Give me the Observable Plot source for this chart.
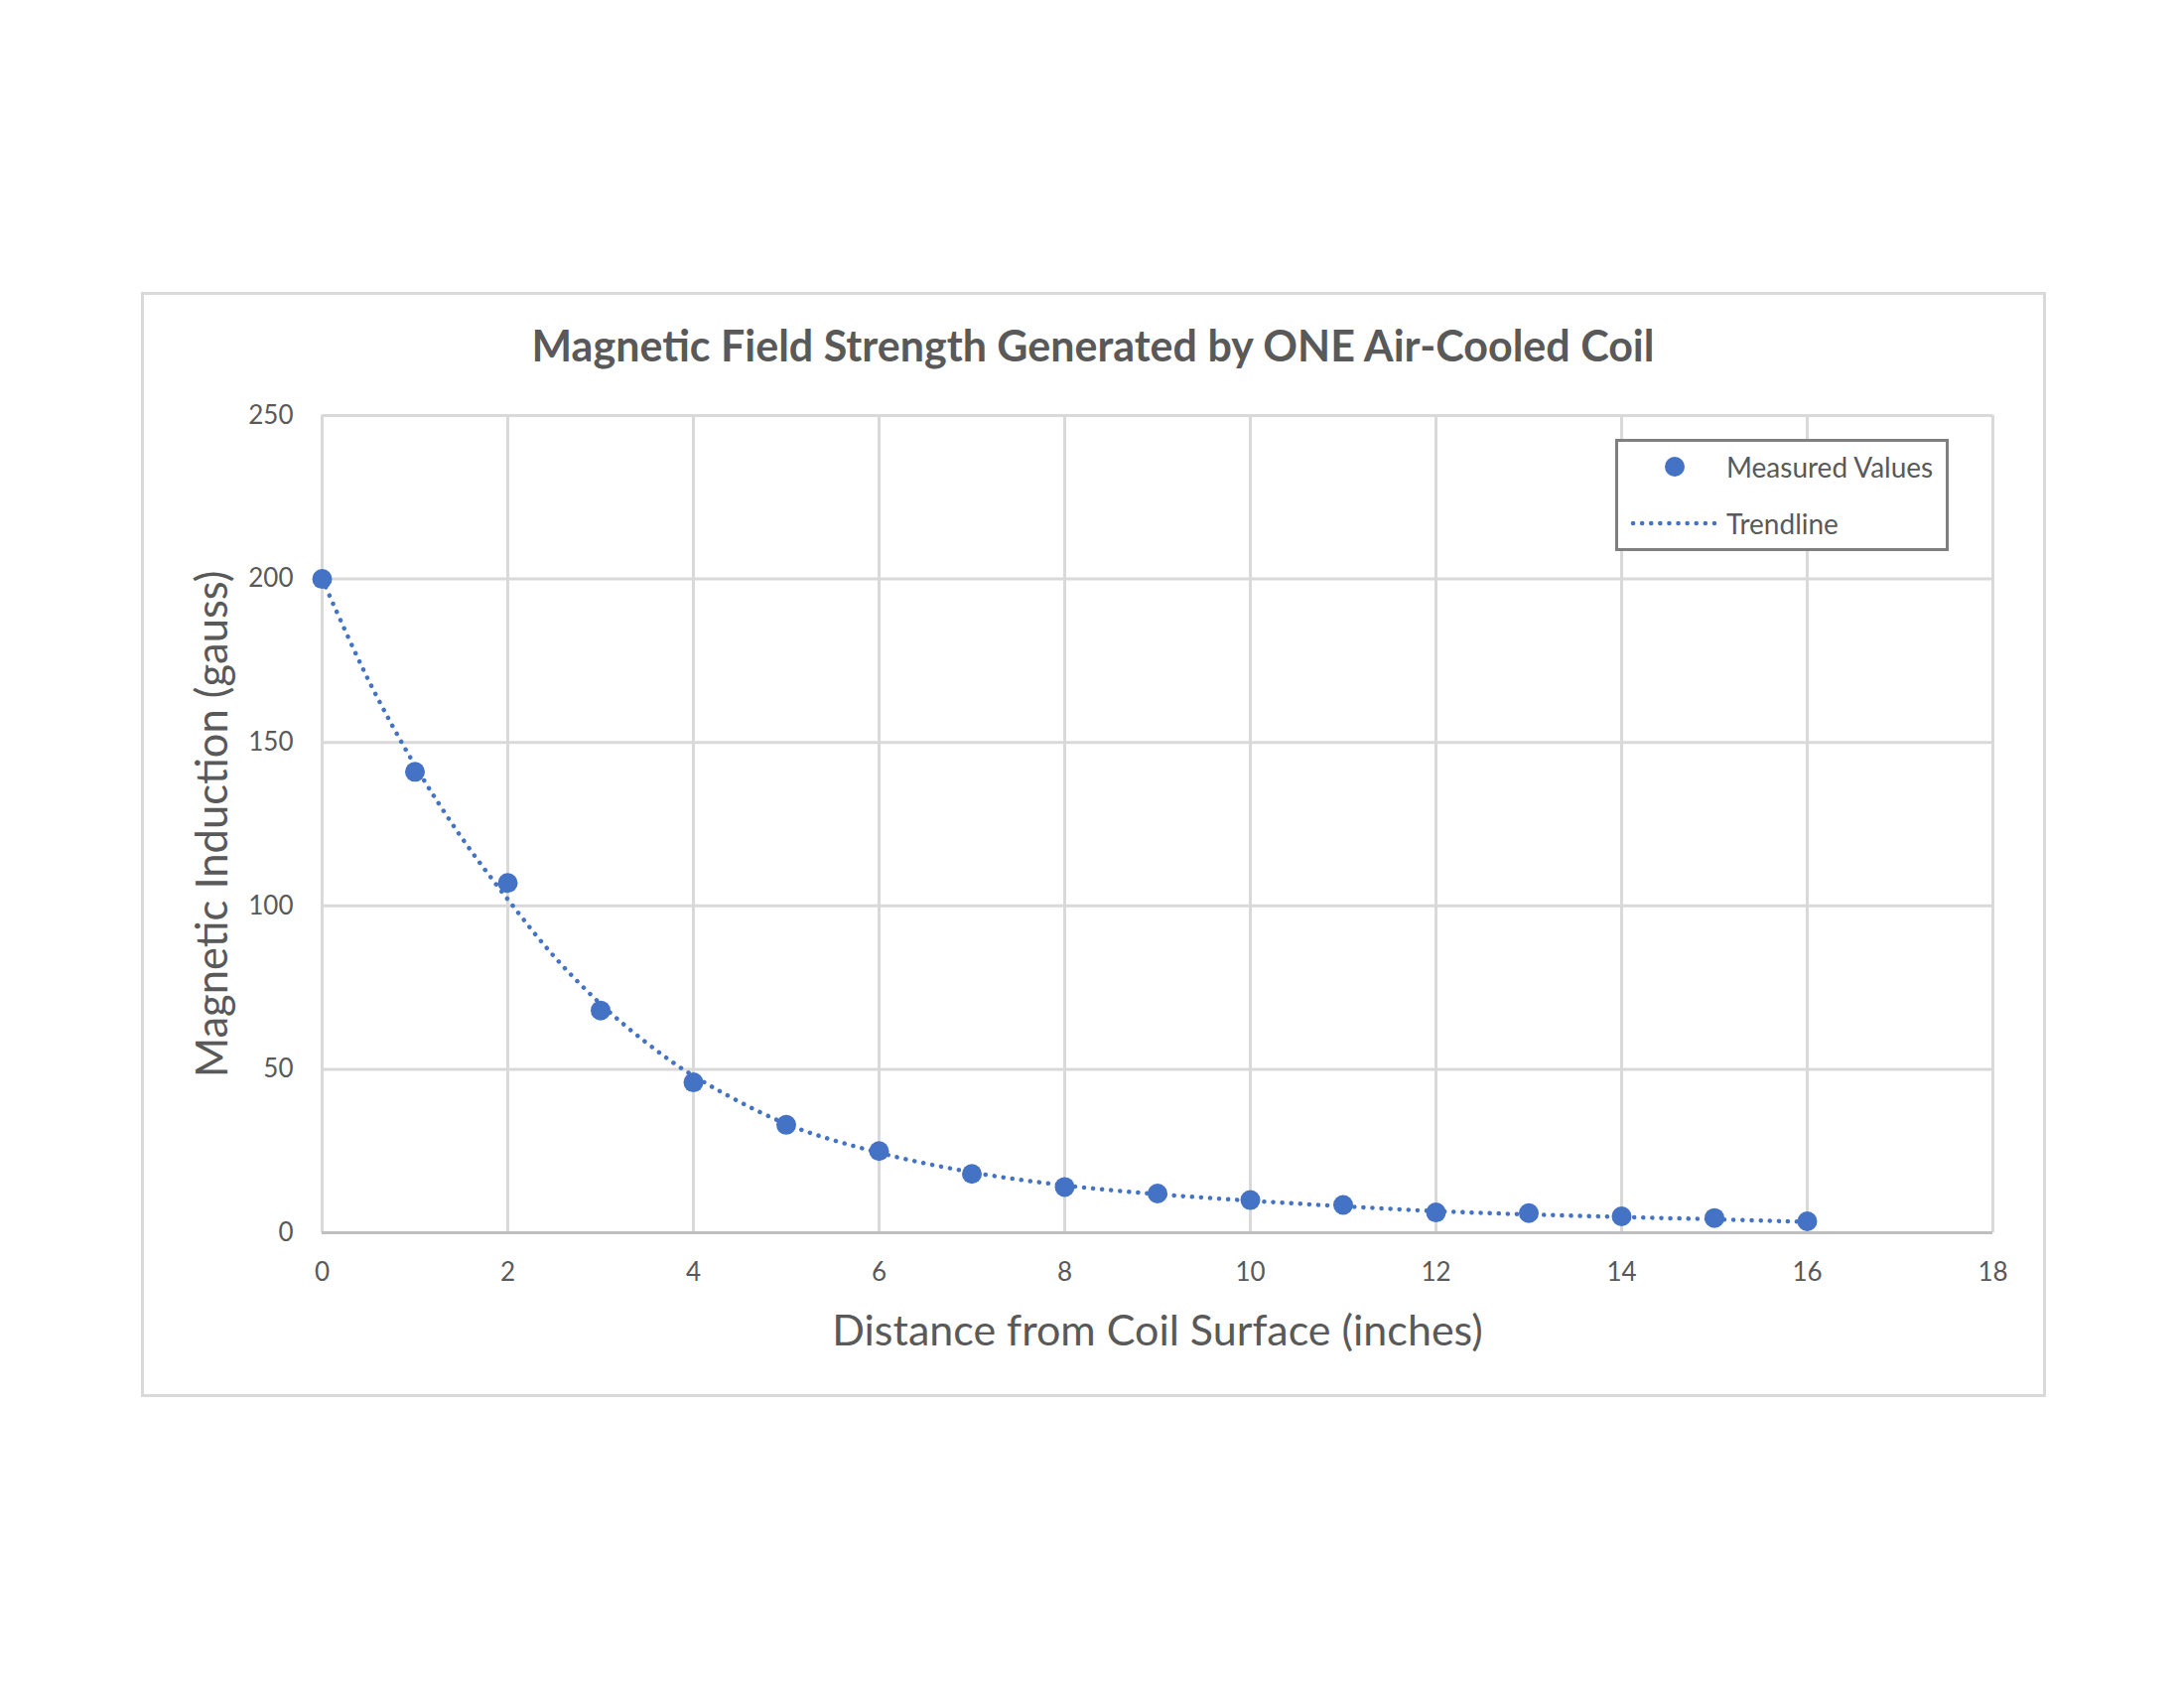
<!DOCTYPE html>
<html>
<head>
<meta charset="utf-8">
<script src="https://cdn.jsdelivr.net/npm/d3@7"></script>
<script src="https://cdn.jsdelivr.net/npm/@observablehq/plot@0.6"></script>
<style>
  html, body { margin: 0; padding: 0; background: #ffffff; }
  #page { position: relative; width: 2200px; height: 1700px; overflow: hidden; font-family: Lato, "Open Sans", sans-serif; }
  #frame { position: absolute; left: 142px; top: 294px; width: 1913px; height: 1107px; border: 3px solid #d9d9d9; }
  #chart { position: absolute; left: 0; top: 0; }
  #legend { position: absolute; left: 1627px; top: 442px; width: 330px; height: 107px; border: 3px solid #7f7f7f; background: #ffffff; }
  .lg-row { position: absolute; left: 0; height: 40px; width: 330px; }
  .lg-row svg { position: absolute; left: 0; top: 0; }
  .lg-row span { position: absolute; left: 109px; top: 0; line-height: 40px; font-size: 28px; color: #595959; white-space: nowrap; }
</style>
</head>
<body>
<div id="page">
  <div id="frame"></div>
  <div id="chart"></div>
  <div id="legend">
    <div class="lg-row" style="top:5px">
      <svg width="100" height="40"><circle cx="57" cy="20" r="10" fill="#4472C4"></circle></svg>
      <span>Measured Values</span>
    </div>
    <div class="lg-row" style="top:62px">
      <svg width="100" height="40"><line x1="15" x2="97" y1="20" y2="20" stroke="#4472C4" stroke-width="4.5" stroke-linecap="round" stroke-dasharray="0.1 9"></line></svg>
      <span>Trendline</span>
    </div>
  </div>
</div>
<script>
// ---- data ----
const distance = [0, 1, 2, 3, 4, 5, 6, 7, 8, 9, 10, 11, 12, 13, 14, 15, 16];
const measured = [200, 141, 107, 68, 46, 33, 25, 18, 14, 12, 10, 8.5, 6.2, 6, 5, 4.5, 3.5];

const trendX = [0, 0.5, 1, 1.5, 2, 2.5, 3, 3.5, 4, 5, 6, 7, 8, 9, 10, 11, 12, 13, 14, 15, 16];
const trendY = [200, 169, 143, 121, 102, 84.5, 70, 58, 48, 33.3, 24.5, 18.5, 14.5, 11.8, 9.8, 8.1, 6.6, 5.6, 4.8, 4.1, 3.3];

const xTicks = [0, 2, 4, 6, 8, 10, 12, 14, 16, 18];
const yTicks = [0, 50, 100, 150, 200, 250];

const chartTitle = "Magnetic Field Strength Generated by ONE Air-Cooled Coil";
const xTitle = "Distance from Coil Surface (inches)";
const yTitle = "Magnetic Induction (gauss)";

// ---- tables ----
const points = distance.map((d, i) => ({x: d, y: measured[i]}));
const trend = trendX.map((d, i) => ({x: d, y: trendY[i]}));

const blue = "#4472C4";
const textGray = "#595959";

const svg = Plot.plot({
  width: 2200,
  height: 1700,
  marginLeft: 324,
  marginRight: 193,
  marginTop: 418,
  marginBottom: 459,
  style: {background: "transparent", fontFamily: "Lato, 'Open Sans', sans-serif", overflow: "visible"},
  x: {domain: [0, 18]},
  y: {domain: [0, 250]},
  marks: [
    Plot.gridX(xTicks, {stroke: "#d9d9d9", strokeOpacity: 1, strokeWidth: 3}),
    Plot.gridY(yTicks, {stroke: "#d9d9d9", strokeOpacity: 1, strokeWidth: 3}),
    Plot.ruleY([0], {stroke: "#bfbfbf", strokeWidth: 3}),
    Plot.axisX(xTicks, {tickSize: 0, tickPadding: 30, fontSize: 26, color: textGray, label: null}),
    Plot.axisY(yTicks, {tickSize: 0, tickPadding: 29, fontSize: 26, color: textGray, label: null}),
    Plot.line(trend, {x: "x", y: "y", curve: "catmull-rom", stroke: blue, strokeWidth: 4.5,
      strokeDasharray: "0.1 9", strokeLinecap: "round"}),
    Plot.dot(points, {x: "x", y: "y", r: 10, fill: blue, stroke: "none"}),
    Plot.text([chartTitle], {frameAnchor: "top", lineAnchor: "middle", textAnchor: "middle", dx: -65, dy: -68,
      fontSize: 43, fontWeight: 700, fill: textGray}),
    Plot.text([xTitle], {frameAnchor: "bottom", lineAnchor: "middle", textAnchor: "middle", dy: 100,
      fontSize: 43, fill: textGray}),
    Plot.text([yTitle], {frameAnchor: "left", lineAnchor: "middle", textAnchor: "middle", dx: -109, rotate: -90,
      fontSize: 43.5, fill: textGray})
  ]
});
document.getElementById("chart").appendChild(svg);
</script>
</body>
</html>
